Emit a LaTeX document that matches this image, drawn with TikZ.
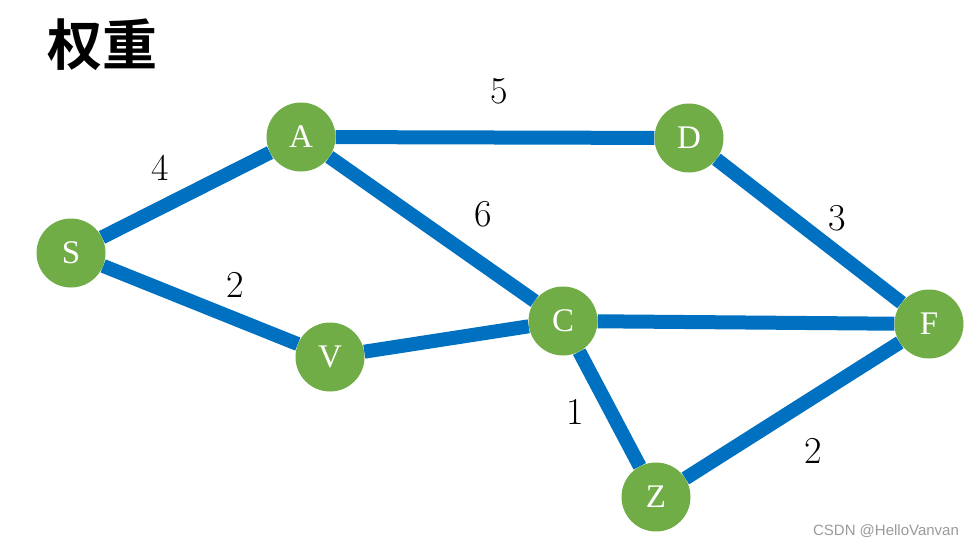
\documentclass[tikz,border=0pt]{standalone}
\usepackage{fontspec}
\usetikzlibrary{backgrounds}
\newfontfamily\cjkfont{Noto Sans CJK SC}[BoldFont={* Bold}]
\newfontfamily\lserif{Liberation Serif}
\newfontfamily\lsans{Liberation Sans}
\definecolor{ngreen}{HTML}{70AD47}
\definecolor{eblue}{HTML}{0070C0}
\definecolor{wmgray}{HTML}{9A9A9A}
\begin{document}
\begin{tikzpicture}[x=1pt,y=-1pt,
  vertex/.style={circle,fill=ngreen,minimum size=69pt,inner sep=0pt,text=white,font=\lserif\fontsize{33}{35}\selectfont},
  edge/.style={draw=eblue,line width=14pt},
  wlabel/.style={font=\fontsize{38}{40}\selectfont,inner sep=0pt}]
\useasboundingbox (0,0) rectangle (977,546);
\node[font=\cjkfont\bfseries\fontsize{55}{58}\selectfont,inner sep=0pt] (title) at (102,45) {权重};
\node[vertex] (S) at (71,253) {S};
\node[vertex] (A) at (301,137) {A};
\node[vertex] (D) at (689,138) {D};
\node[vertex] (V) at (330,357) {V};
\node[vertex] (C) at (563,321) {C};
\node[vertex] (F) at (929,324) {F};
\node[vertex] (Z) at (656,497) {Z};
\begin{scope}[on background layer]
\draw[edge] (S) -- (A);
\draw[edge] (S) -- (V);
\draw[edge] (A) -- (D);
\draw[edge] (A) -- (C);
\draw[edge] (V) -- (C);
\draw[edge] (D) -- (F);
\draw[edge] (C) -- (F);
\draw[edge] (C) -- (Z);
\draw[edge] (Z) -- (F);
\end{scope}
\node[wlabel] (lSA) at (160,168) {4};
\node[wlabel] (lAD) at (499,91) {5};
\node[wlabel] (lAC) at (483,214) {6};
\node[wlabel] (lSV) at (235,285) {2};
\node[wlabel] (lDF) at (837,218) {3};
\node[wlabel] (lCZ) at (575,412) {1};
\node[wlabel] (lZF) at (813,451) {2};
\node[font=\lsans\fontsize{15}{16}\selectfont,text=wmgray,inner sep=0pt] (wm) at (886,531) {CSDN @HelloVanvan};
\end{tikzpicture}
\end{document}
